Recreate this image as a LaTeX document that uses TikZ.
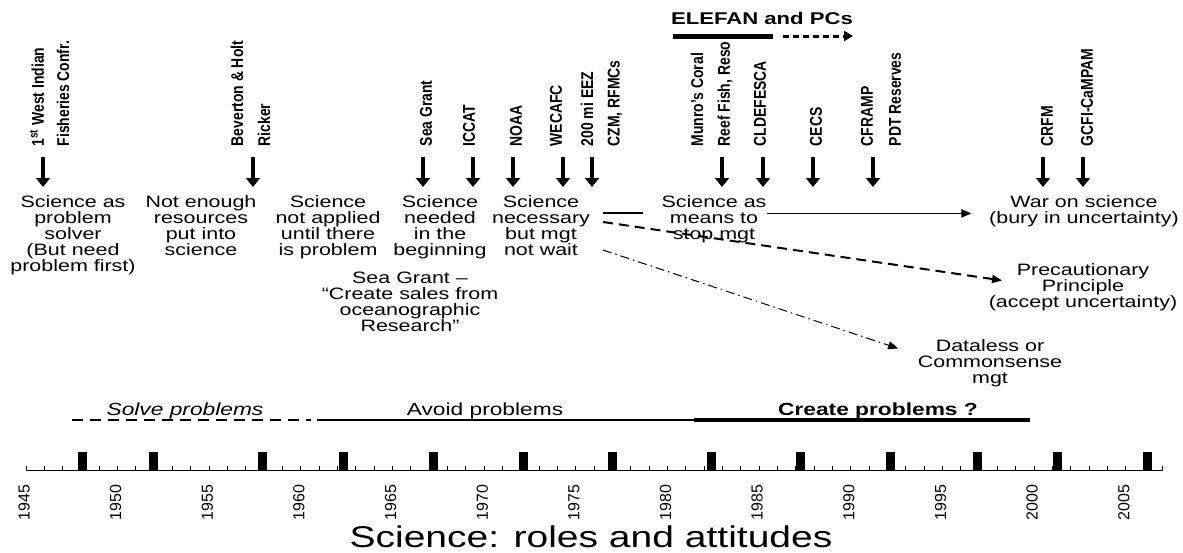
\documentclass[tikz,border=0pt]{standalone}
\usepackage{fontspec}
\setmainfont{Liberation Sans}
\newfontfamily\widesf[FakeStretch=1.3]{Liberation Sans}
\newfontfamily\narrowsf[FakeStretch=0.82]{Liberation Sans}
\usetikzlibrary{arrows.meta}

\begin{document}
\begin{tikzpicture}[x=1pt,y=-1pt,>={Triangle[length=10pt,width=8pt]},line width=1.5pt]

	\tikzset{stage txt/.style={align=center, inner sep=0pt, anchor=north,
			font=\widesf\fontsize{16.5}{16}\selectfont}}
	\tikzset{era txt/.style={inner sep=0pt, anchor=base,
			font=\widesf\fontsize{17.5}{18}\selectfont}}
	\tikzset{org lbl/.style={rotate=90, anchor=west, inner sep=0pt,
			font=\narrowsf\bfseries\fontsize{17}{17}\selectfont}}
	\tikzset{year lbl/.style={rotate=90, anchor=east, inner sep=0pt,
			font=\fontsize{16}{16}\selectfont}}
	\tikzset{event/.style={-{Triangle[length=9pt,width=14pt]}, line width=4pt}}

	\useasboundingbox (0,0) rectangle (1183,552);

	% ELEFAN and PCs
	\node[anchor=base, inner sep=0pt, font=\widesf\bfseries\fontsize{17}{17}\selectfont] (elefan) at (762,24) {ELEFAN and PCs};
	\coordinate (elefanA) at (673,36);
	\coordinate (elefanB) at (773,36);
	\coordinate (elefanC) at (783,36);
	\coordinate (elefanD) at (853,36);
	\draw[line width=5pt] (elefanA) -- (elefanB);
	\draw[line width=3pt, dash pattern=on 6pt off 4pt, -{Triangle[length=9pt,width=10pt]}] (elefanC) -- (elefanD);

	% events
	\foreach \x/\txt [count=\i] in {37/{1\textsuperscript{st} West Indian}, 63/{Fisheries Confr.},
			237/{Beverton \& Holt}, 264/Ricker, 426/{Sea Grant}, 469/ICCAT, 516/NOAA,
			556/WECAFC, 587/{200 mi EEZ}, 615/{CZM, RFMCs}, 697/{Munro’s Coral},
			725/{Reef Fish, Reso}, 760/CLDEFESCA, 816/CECS, 867/CFRAMP,
			895/{PDT Reserves}, 1047/CRFM, 1087/{GCFI-CaMPAM}} {
		\node[org lbl] (org\i) at (\x,147) {\txt};
	}
	\foreach \ax [count=\i] in {43, 253, 423, 473, 513, 563, 592, 722, 763, 813, 873, 1043, 1083} {
		\coordinate (ev\i) at (\ax,157);
		\coordinate (tip\i) at (\ax,187);
		\draw[event] (ev\i) -- (tip\i);
	}

	\node[stage txt] (S1) at (73,195) {Science as\\problem\\solver\\(But need\\problem first)};
	\node[stage txt] (S2) at (201,195) {Not enough\\resources\\put into\\science};
	\node[stage txt] (S3) at (328,195) {Science\\not applied\\until there\\is problem};
	\node[stage txt] (S4) at (440,195) {Science\\needed\\in the\\beginning};
	\node[stage txt] (S5) at (541,195) {Science\\necessary\\but mgt\\not wait};
	\node[stage txt] (grant) at (410,271) {Sea Grant –\\“Create sales from\\oceanographic\\Research”};

	\node[stage txt] (means) at (714,195) {Science as\\means to\\stop mgt};
	\node[stage txt] (war) at (1084,195) {War on science\\(bury in uncertainty)};
	\node[stage txt] (prec) at (1083,263) {Precautionary\\Principle\\(accept uncertainty)};
	\node[stage txt] (data) at (990,339) {Dataless or\\Commonsense\\mgt};

	\coordinate (fork) at (603,213);
	\coordinate (forkend) at (643,213);
	\draw[line width=2pt] (fork) -- (forkend);
	\draw[->, shorten >=17pt] ([yshift=6pt]means.east) -- ([yshift=6pt]means.east -| war.west);
	\draw[->, line width=2pt, dash pattern=on 10pt off 6pt] ([yshift=-9pt]fork) -- ([xshift=14pt,yshift=7pt]prec.west);
	\draw[->, line width=1pt, dash pattern=on 9pt off 4pt on 1.5pt off 4pt] ([yshift=-37pt]fork) -- ([xshift=-19pt,yshift=15pt]data.west);

	% eras
	\node[era txt] (solve) at (185,415) {\itshape Solve problems};
	\node[era txt] (avoid) at (485,415) {Avoid problems};
	\node[era txt] (create) at (878,415) {\bfseries Create problems ?};
	\coordinate (eraA) at (72,420);
	\coordinate (eraB) at (311,420);
	\coordinate (eraC) at (317,420);
	\coordinate (eraD) at (694,420);
	\coordinate (eraE) at (1030,420);
	\draw[line width=2.5pt, dash pattern=on 11pt off 7pt] (eraA) -- (eraB);
	\draw[line width=2pt] (eraC) -- (eraD);
	\draw[line width=4pt] (eraD) -- (eraE);

	% time axis
	\coordinate (axisA) at (26,470.7);
	\coordinate (axisB) at (1163,470.7);
	\draw[line width=1.2pt] (axisA) -- (axisB);
	\foreach \k in {0,...,62}
		\draw[line width=1pt] ({26+\k*18.33},470.7) -- ++(0,-5);
	\foreach \bx in {82, 153, 262, 343, 433, 523, 612, 711, 800, 890, 977, 1057, 1147}
		\fill ({\bx-4.5},452) rectangle ({\bx+4.5},470.7);
	\foreach \yr in {1945,1950,...,2005}
		\node[year lbl] (yr\yr) at ({24+(\yr-1945)*18.33},484) {\yr};

	\node[anchor=base, inner sep=0pt, font=\widesf\fontsize{30}{30}\selectfont] (title) at (591,547) {Science: roles and attitudes};

\end{tikzpicture}
\end{document}
